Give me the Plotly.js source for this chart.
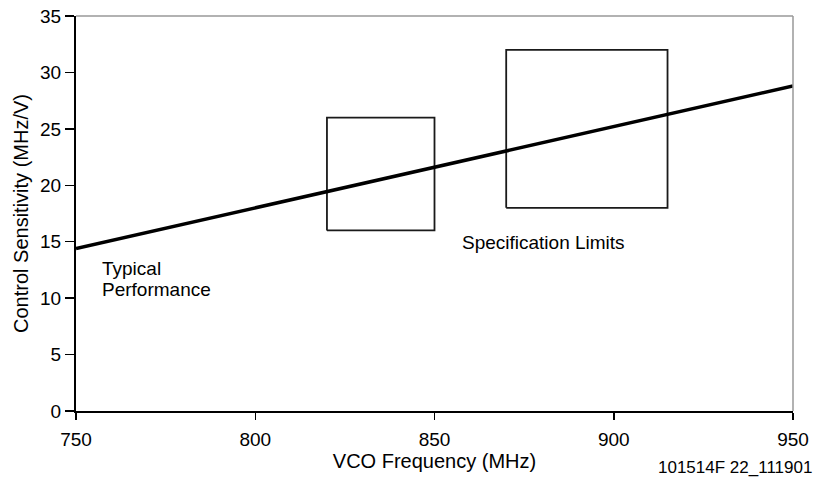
<!DOCTYPE html>
<html>
<head>
<meta charset="utf-8">
<script src="https://cdn.plot.ly/plotly-3.0.1.min.js"></script>
<style>
html,body{margin:0;padding:0;background:#fff;}
#chart{width:815px;height:478px;}
</style>
</head>
<body>
<div id="chart"></div>
<script>
// Typical performance curve
const vcoFreq = [750, 800, 850, 900, 950];
const sensitivity = [14.4, 18.0, 21.6, 25.2, 28.8];

// Specification limit boxes
const specFreqLo = [820, 870];
const specFreqHi = [850, 915];
const specSensLo = [16, 18];
const specSensHi = [26, 32];

const xTicks = [750, 800, 850, 900, 950];
const yTicks = [0, 5, 10, 15, 20, 25, 30, 35];

const FONT = 'Liberation Sans, Arial, Helvetica, sans-serif';

const traces = [];
for (let i = 0; i < specFreqLo.length; i++) {
  traces.push({
    x: [specFreqLo[i], specFreqHi[i], specFreqHi[i], specFreqLo[i], specFreqLo[i]],
    y: [specSensLo[i], specSensLo[i], specSensHi[i], specSensHi[i], specSensLo[i]],
    mode: 'lines',
    line: {color: '#1a1a1a', width: 1.8},
    hoverinfo: 'skip',
    showlegend: false,
    cliponaxis: false
  });
}
traces.push({
  x: vcoFreq,
  y: sensitivity,
  mode: 'lines',
  line: {color: '#000', width: 3.5},
  showlegend: false,
  name: 'Typical Performance'
});

const layout = {
  width: 815,
  height: 478,
  margin: {l: 76, r: 22, t: 16, b: 67},
  paper_bgcolor: '#fff',
  plot_bgcolor: '#fff',
  font: {family: FONT, size: 19, color: '#000'},
  showlegend: false,
  xaxis: {
    range: [750, 950],
    tickvals: xTicks,
    ticktext: xTicks.map(String),
    ticks: 'outside',
    ticklen: 7,
    tickwidth: 1.5,
    tickcolor: '#000',
    ticklabelstandoff: 3,
    showgrid: false,
    zeroline: false,
    showline: true,
    linecolor: '#000',
    linewidth: 2,
    tickfont: {family: FONT, size: 19, color: '#000'},
    title: {text: 'VCO Frequency (MHz)', font: {family: FONT, size: 20, color: '#000'}, standoff: 1},
    fixedrange: true
  },
  yaxis: {
    range: [0, 35],
    tickvals: yTicks,
    ticktext: yTicks.map(String),
    ticks: 'outside',
    ticklen: 9,
    tickwidth: 1.5,
    tickcolor: '#000',
    showgrid: false,
    zeroline: false,
    showline: true,
    linecolor: '#000',
    linewidth: 2,
    tickfont: {family: FONT, size: 19, color: '#000'},
    title: {text: 'Control Sensitivity (MHz/V)', font: {family: FONT, size: 20, color: '#000'}, standoff: 6},
    fixedrange: true
  },
  shapes: [
    {type: 'line', xref: 'paper', yref: 'paper', x0: 0, x1: 1, y0: 1, y1: 1, line: {color: '#999', width: 1.5}},
    {type: 'line', xref: 'paper', yref: 'paper', x0: 1, x1: 1, y0: 0, y1: 1, line: {color: '#999', width: 1.5}}
  ],
  annotations: [
    {x: 757.2, y: 12.67, xref: 'x', yref: 'y', xshift: -2, text: 'Typical', showarrow: false, xanchor: 'left', yanchor: 'middle', font: {family: FONT, size: 19, color: '#000'}},
    {x: 757.2, y: 10.81, xref: 'x', yref: 'y', xshift: -2, text: 'Performance', showarrow: false, xanchor: 'left', yanchor: 'middle', font: {family: FONT, size: 19, color: '#000'}},
    {x: 857.6, y: 14.89, xref: 'x', yref: 'y', xshift: -2, text: 'Specification Limits', showarrow: false, xanchor: 'left', yanchor: 'middle', font: {family: FONT, size: 19, color: '#000'}},
    {x: 1.0, y: -0.144, xref: 'paper', yref: 'paper', text: '101514F 22_111901', showarrow: false, xanchor: 'right', yanchor: 'middle', xshift: 21, font: {family: FONT, size: 17, color: '#000'}}
  ]
};

Plotly.newPlot('chart', traces, layout, {displayModeBar: false, staticPlot: true});
</script>
</body>
</html>
